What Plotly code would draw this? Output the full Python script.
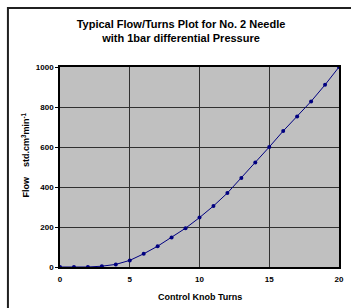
import plotly.graph_objects as go

turns = list(range(0, 21))
flow = [0, 0, 0, 4, 13, 33, 66, 104, 147, 194, 247, 305, 370, 445, 522, 600, 680, 753, 828, 911, 1000]

x_ticks = [0, 5, 10, 15, 20]
y_ticks = [0, 200, 400, 600, 800, 1000]

font_family = "Liberation Sans, Arial, sans-serif"

fig = go.Figure()
fig.add_trace(go.Scatter(
    x=turns, y=flow, mode="lines+markers",
    line=dict(color="#000080", width=1),
    marker=dict(color="#000080", size=4),
    cliponaxis=False,
    showlegend=False,
))

L, R, T, B = 60, 7, 67, 41
PW, PH = 351 - L - R, 308 - T - B

fig.update_layout(
    width=351, height=308,
    margin=dict(l=L, r=R, t=T, b=B),
    paper_bgcolor="white",
    plot_bgcolor="#C0C0C0",
    title=dict(
        text="<b>Typical Flow/Turns Plot for No. 2 Needle<br>with 1bar differential Pressure</b>",
        x=181/351, xanchor="center", y=1 - 28/308, yanchor="middle",
        font=dict(family=font_family, size=11, color="black"),
    ),
    xaxis=dict(
        range=[0, 20], tickvals=x_ticks, ticktext=[str(v) for v in x_ticks],
        showgrid=True, gridcolor="#303030", gridwidth=1,
        showline=True, linecolor="black", linewidth=1.5, mirror=True,
        ticks="", ticklabeloverflow="allow", ticklabelstandoff=4,
        tickfont=dict(family=font_family, size=8, color="black", weight="bold"),
        zeroline=False,
    ),
    yaxis=dict(
        range=[0, 1000], tickvals=y_ticks, ticktext=[str(v) for v in y_ticks],
        showgrid=True, gridcolor="#303030", gridwidth=1,
        showline=True, linecolor="black", linewidth=1.5, mirror=True,
        ticks="outside", ticklen=3, tickcolor="black", ticklabeloverflow="allow",
        tickfont=dict(family=font_family, size=8, color="black", weight="bold"),
        zeroline=False,
    ),
    annotations=[
        dict(text="<b>Control Knob Turns</b>", xref="paper", yref="paper",
             x=0.5, y=-30 / PH, xanchor="center", yanchor="middle", showarrow=False,
             font=dict(family=font_family, size=9, color="black")),
        dict(text="<b>Flow    std.cm<sup>3</sup>min<sup>-1</sup></b>", xref="paper", yref="paper",
             x=(25 - L) / PW, y=1 - (155 - T) / PH, xanchor="center", yanchor="middle",
             textangle=-90, showarrow=False,
             font=dict(family=font_family, size=9, color="black")),
    ],
    shapes=[dict(type="rect", xref="paper", yref="paper",
                 x0=(7 - L) / PW, x1=1 + 30 / PW, y0=-(B + 30) / PH, y1=1 + (T - 8) / PH,
                 line=dict(color="#202020", width=2), fillcolor="rgba(0,0,0,0)", layer="above")],
)

fig.write_html("out.html", config={"displayModeBar": False},
               post_script="document.body.style.margin='0';document.body.style.overflow='hidden';")
